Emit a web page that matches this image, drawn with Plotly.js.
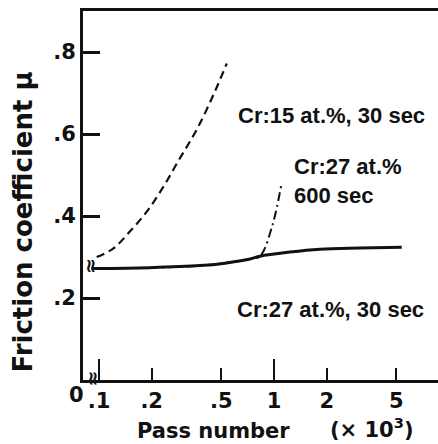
<!DOCTYPE html>
<html>
<head>
<meta charset="utf-8">
<script src="https://cdn.plot.ly/plotly-3.0.1.min.js"></script>
<style>html,body{margin:0;padding:0;background:#fff;}</style>
</head>
<body>
<div id="chart" style="width:438px;height:444px;"></div>
<script>
// ---- data (pass number in 10^3, friction coefficient mu) ----
const passSolid = [0.091, 0.196, 0.378, 0.525, 0.729, 0.832, 1.23, 1.83, 3.10, 5.37];
const muSolid   = [0.272, 0.274, 0.279, 0.285, 0.295, 0.302, 0.312, 0.319, 0.322, 0.324];

const passCr15 = [0.097, 0.121, 0.150, 0.187, 0.233, 0.290, 0.361, 0.450, 0.537];
const muCr15   = [0.300, 0.321, 0.362, 0.410, 0.471, 0.541, 0.610, 0.695, 0.772];

const pass600 = [0.091, 0.378, 0.729, 0.832, 0.98, 1.10];
const mu600   = [0.272, 0.279, 0.295, 0.302, 0.378, 0.476];

const xTickVals = [0.1, 0.2, 0.5, 1, 2, 5];
const xTickText = ['.1', '.2', '.5', '1', '2', '5'];
const xLongTicks = [0.1, 1];
const yTickVals = [0.2, 0.4, 0.6, 0.8];
const yTickText = ['.2', '.4', '.6', '.8'];

const labels = [
  {text: 'Cr:15 at.%, 30 sec', x: 0.431, y: 0.718},
  {text: 'Cr:27 at.%<br>600 sec', x: 0.589, y: 0.538},
  {text: 'Cr:27 at.%, 30 sec', x: 0.428, y: 0.190}
];

const F = 'DejaVu Sans, Arial, sans-serif';
const FL = 'Liberation Sans, Arial, sans-serif';
const black = '#111';

const traces = [
  {x: pass600, y: mu600, mode: 'lines', line: {color: black, width: 2, dash: '9px,4px,2px,4px', shape: 'spline'}, showlegend: false},
  {x: passCr15, y: muCr15, mode: 'lines', line: {color: black, width: 2.2, dash: '8px,5px', shape: 'spline'}, showlegend: false},
  {x: passSolid, y: muSolid, mode: 'lines', line: {color: black, width: 3, shape: 'spline'}, showlegend: false},
  {x: [0.5], y: [-1], xaxis: 'x2', yaxis: 'y', mode: 'markers', marker: {opacity: 0}, showlegend: false}
];

const annotations = labels.map(l => ({
  text: l.text, x: l.x, y: l.y, xref: 'paper', yref: 'paper',
  xanchor: 'left', yanchor: 'middle', align: 'left', showarrow: false,
  font: {family: FL, size: 22, color: black, weight: 'bold'}
}));

annotations.push(
  {text: 'Friction coefficient μ', x: -0.169, y: 0.427, xref: 'paper', yref: 'paper',
   textangle: -90, showarrow: false, xanchor: 'center', yanchor: 'middle',
   font: {family: F, size: 26, color: black, weight: 'bold'}},
  {text: 'Pass number', x: 0.146, y: -0.138, xref: 'paper', yref: 'paper',
   showarrow: false, xanchor: 'left', yanchor: 'middle',
   font: {family: F, size: 21, color: black, weight: 'bold'}},
  {text: '(× 10<sup>3</sup>)', x: 0.69, y: -0.13, xref: 'paper', yref: 'paper',
   showarrow: false, xanchor: 'left', yanchor: 'middle',
   font: {family: F, size: 21, color: black, weight: 'bold'}},
  {text: '0', x: -0.0197, y: -0.041, xref: 'paper', yref: 'paper',
   showarrow: false, xanchor: 'center', yanchor: 'middle',
   font: {family: F, size: 21, color: black, weight: 'bold'}},
  {text: '≈', x: 0.027, y: 0.31, xref: 'paper', yref: 'paper', textangle: 90,
   showarrow: false, xanchor: 'center', yanchor: 'middle',
   font: {family: F, size: 19, color: black, weight: 'bold'}},
  {text: '≈', x: 0.03, y: 0.005, xref: 'paper', yref: 'paper', textangle: 90,
   showarrow: false, xanchor: 'center', yanchor: 'middle',
   font: {family: F, size: 19, color: black, weight: 'bold'}}
);

const layout = {
  width: 438, height: 444,
  margin: {l: 83, r: 0, t: 11, b: 64, pad: 0},
  paper_bgcolor: '#fff', plot_bgcolor: '#fff',
  showlegend: false,
  xaxis: {
    type: 'log', range: [-1.0914, 0.937],
    tickmode: 'array', tickvals: xTickVals, ticktext: xTickText,
    ticks: 'inside', ticklen: 12, tickwidth: 2, tickcolor: black,
    showline: true, linewidth: 3, linecolor: black, mirror: true,
    showgrid: false, zeroline: false,
    tickfont: {family: F, size: 21, color: black, weight: 'bold'}
  },
  xaxis2: {
    type: 'log', range: [-1.0914, 0.937], overlaying: 'x', anchor: 'y', side: 'bottom',
    tickmode: 'array', tickvals: xLongTicks, showticklabels: false,
    ticks: 'inside', ticklen: 21, tickwidth: 2, tickcolor: black,
    showline: false, showgrid: false, zeroline: false
  },
  yaxis: {
    range: [0, 0.9],
    tickmode: 'array', tickvals: yTickVals, ticktext: yTickText,
    ticks: 'inside', ticklen: 17, tickwidth: 3, tickcolor: black,
    showline: true, linewidth: 3, linecolor: black, mirror: false,
    showgrid: false, zeroline: false,
    tickfont: {family: F, size: 21, color: black, weight: 'bold'}
  },
  annotations: annotations
};

Plotly.newPlot('chart', traces, layout, {displayModeBar: false, staticPlot: true});
</script>
</body>
</html>
